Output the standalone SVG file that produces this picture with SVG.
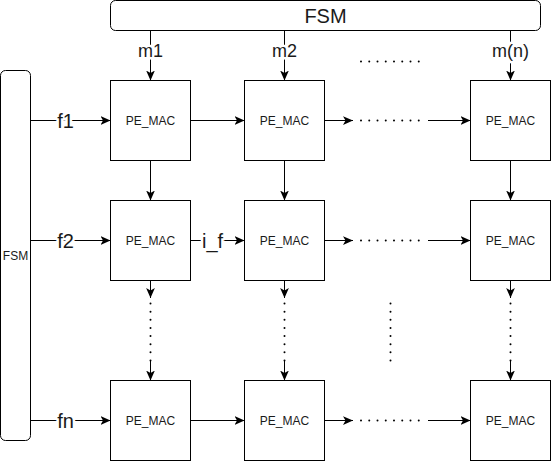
<svg xmlns="http://www.w3.org/2000/svg" width="551" height="462" viewBox="0 0 551 462">
<style>
.box{fill:#fff;stroke:#000;stroke-width:1}
.pe{font-family:"Liberation Sans",Arial,Helvetica,sans-serif;font-size:12px;fill:#1a1a1a;text-anchor:middle}
.big{font-family:"Liberation Sans",Arial,Helvetica,sans-serif;font-size:20px;fill:#1a1a1a;text-anchor:middle}
.lbl{font-family:"Liberation Sans",Arial,Helvetica,sans-serif;fill:#1a1a1a;text-anchor:middle;stroke:#fff;stroke-width:5;paint-order:stroke;stroke-linejoin:round}
.m{font-size:18px}
.f{font-size:20px}
.ln{fill:none;stroke:#000;stroke-width:1}
.arr{marker-end:url(#ah)}
.dot{fill:none;stroke:#000;stroke-width:2;stroke-linecap:round}
.dh{stroke-dasharray:0 8.25}
.dv{stroke-dasharray:0 8.14}
</style>
<defs>
<marker id="ah" markerUnits="userSpaceOnUse" markerWidth="10" markerHeight="10" viewBox="0 0 8 7" refX="8" refY="3.5" orient="auto">
<path d="M0,0 L8,3.5 L0,7 L2,3.5 z" fill="#000"/>
</marker>
</defs>

<g id="fsm-top">
<rect class="box" x="110.5" y="0.5" width="430" height="30" rx="5"/>
<text class="big" x="325.5" y="23">FSM</text>
</g>
<g id="fsm-left">
<rect class="box" x="0.5" y="70.5" width="30" height="370" rx="5"/>
<text class="pe" x="15.5" y="259.5">FSM</text>
</g>

<g id="pe11"><rect class="box" x="110.5" y="80.5" width="80" height="80"/><text class="pe" x="150.5" y="124.5">PE_MAC</text></g>
<g id="pe12"><rect class="box" x="244.5" y="80.5" width="80" height="80"/><text class="pe" x="284.5" y="124.5">PE_MAC</text></g>
<g id="pe1n"><rect class="box" x="470.5" y="80.5" width="80" height="80"/><text class="pe" x="510.5" y="124.5">PE_MAC</text></g>
<g id="pe21"><rect class="box" x="110.5" y="200.5" width="80" height="80"/><text class="pe" x="150.5" y="244.5">PE_MAC</text></g>
<g id="pe22"><rect class="box" x="244.5" y="200.5" width="80" height="80"/><text class="pe" x="284.5" y="244.5">PE_MAC</text></g>
<g id="pe2n"><rect class="box" x="470.5" y="200.5" width="80" height="80"/><text class="pe" x="510.5" y="244.5">PE_MAC</text></g>
<g id="pen1"><rect class="box" x="110.5" y="380.5" width="80" height="80"/><text class="pe" x="150.5" y="424.5">PE_MAC</text></g>
<g id="pen2"><rect class="box" x="244.5" y="380.5" width="80" height="80"/><text class="pe" x="284.5" y="424.5">PE_MAC</text></g>
<g id="penn"><rect class="box" x="470.5" y="380.5" width="80" height="80"/><text class="pe" x="510.5" y="424.5">PE_MAC</text></g>

<g id="connectors">
<!-- m inputs -->
<path class="ln arr" d="M150.5,30.5 V80.5"/>
<path class="ln arr" d="M284.5,30.5 V80.5"/>
<path class="ln arr" d="M510.5,30.5 V80.5"/>
<text class="lbl m" x="150.5" y="56.5">m1</text>
<text class="lbl m" x="284.5" y="56.5">m2</text>
<text class="lbl m" x="510.5" y="56.5">m(n)</text>
<path class="dot dh" d="M361,61.5 H427"/>

<!-- f inputs -->
<path class="ln arr" d="M30.5,120.5 H110.5"/>
<path class="ln arr" d="M30.5,240.5 H110.5"/>
<path class="ln arr" d="M30.5,420.5 H110.5"/>
<text class="lbl f" x="65.5" y="128">f1</text>
<text class="lbl f" x="65.5" y="248">f2</text>
<text class="lbl f" x="65.5" y="428">fn</text>

<!-- horizontal col1 -> col2 -->
<path class="ln arr" d="M190.5,120.5 H244.5"/>
<path class="ln arr" d="M190.5,240.5 H201 M223,240.5 H244.5"/>
<text class="lbl f" x="212.5" y="248">i_f</text>
<path class="ln arr" d="M190.5,420.5 H244.5"/>

<!-- horizontal col2 -> coln -->
<path class="ln arr" d="M324.5,120.5 H353"/>
<path class="dot dh" d="M361,120.5 H427"/>
<path class="ln arr" d="M428,120.5 H470.5"/>
<path class="ln arr" d="M324.5,240.5 H353"/>
<path class="dot dh" d="M361,240.5 H427"/>
<path class="ln arr" d="M428,240.5 H470.5"/>
<path class="ln arr" d="M324.5,420.5 H353"/>
<path class="dot dh" d="M361,420.5 H427"/>
<path class="ln arr" d="M428,420.5 H470.5"/>

<!-- vertical row1 -> row2 -->
<path class="ln arr" d="M150.5,160.5 V200.5"/>
<path class="ln arr" d="M284.5,160.5 V200.5"/>
<path class="ln arr" d="M510.5,160.5 V200.5"/>

<!-- vertical row2 -> rown -->
<path class="ln arr" d="M150.5,280.5 V298"/>
<path class="dot dv" d="M150.5,303.5 V360.5"/>
<path class="ln arr" d="M150.5,361 V380.5"/>
<path class="ln arr" d="M284.5,280.5 V298"/>
<path class="dot dv" d="M284.5,303.5 V360.5"/>
<path class="ln arr" d="M284.5,361 V380.5"/>
<path class="ln arr" d="M510.5,280.5 V298"/>
<path class="dot dv" d="M510.5,303.5 V360.5"/>
<path class="ln arr" d="M510.5,361 V380.5"/>
<path class="dot dv" d="M390.5,303.5 V360.5"/>
</g>
</svg>
